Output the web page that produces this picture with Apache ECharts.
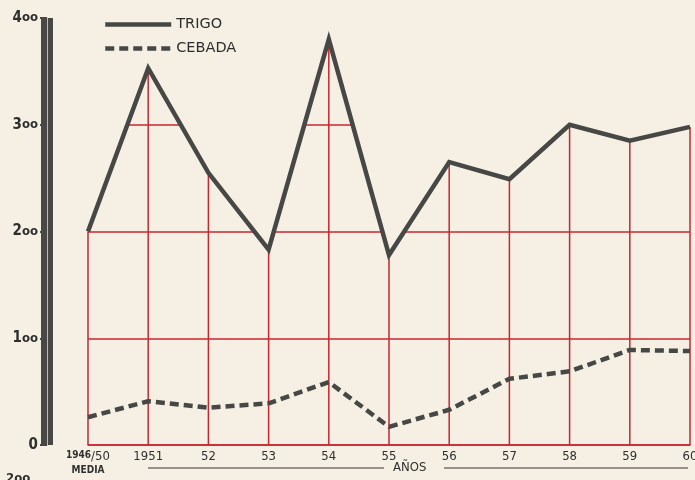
<!DOCTYPE html>
<html>
<head>
<meta charset="utf-8">
<script src="https://cdn.jsdelivr.net/npm/echarts@6/dist/echarts.min.js"></script>
<style>
  html, body { margin: 0; padding: 0; background: #f5f0e3; }
  #main { width: 695px; height: 480px; }
</style>
</head>
<body>
<div id="main"></div>
<script>
var years = ['1946/50', '1951', '52', '53', '54', '55', '56', '57', '58', '59', '60'];
var trigo = [200, 353, 255, 183, 380, 178, 265, 249, 300, 285, 298];
var cebada = [26, 41, 35, 39, 59, 17, 33, 62, 69, 89, 88];

var bg = '#f5f0e3';
var red = '#c9262f';
var ink = '#474745';

var chart = echarts.init(document.getElementById('main'));

var option = {
  backgroundColor: bg,
  animation: false,
  grid: { left: 88, right: 5, top: 18, bottom: 35, outerBoundsMode: 'none' },
  legend: {
    data: ['TRIGO', 'CEBADA'],
    orient: 'vertical',
    left: 98,
    top: 12,
    itemWidth: 66,
    itemHeight: 10,
    itemGap: 9,
    itemStyle: { opacity: 0 },
    lineStyle: { width: 4.5 },
    textStyle: { fontFamily: 'DejaVu Sans', fontSize: 14.5, color: '#2e2e2e' }
  },
  xAxis: {
    type: 'category',
    data: years,
    boundaryGap: false,
    axisLine: { lineStyle: { color: red, width: 1.5 } },
    axisTick: { show: false },
    splitLine: { show: false },
    axisLabel: {
      interval: 0,
      margin: 5,
      color: '#303030',
      fontFamily: 'DejaVu Sans Condensed',
      fontSize: 13,
      formatter: function (v) {
        if (v === years[0]) return '{s|1946}{b|/50}\n{m|MEDIA}';
        return v;
      },
      rich: {
        s: { fontSize: 10, fontWeight: 'bold', verticalAlign: 'top', color: '#303030', fontFamily: 'DejaVu Sans Condensed' },
        b: { fontSize: 13, color: '#303030', fontFamily: 'DejaVu Sans Condensed' },
        m: { fontSize: 10, fontWeight: 'bold', color: '#303030', fontFamily: 'DejaVu Sans Condensed', lineHeight: 14 }
      }
    }
  },
  yAxis: [{
    type: 'value',
    min: 0,
    max: 400,
    interval: 100,
    offset: 41,
    axisLine: { show: true, lineStyle: { color: ink, width: 12, cap: 'butt' } },
    axisTick: { show: true, length: 7, lineStyle: { color: ink, width: 2 } },
    splitLine: { show: true, lineStyle: { color: [red, red, red, red, 'rgba(0,0,0,0)'], width: 1.5 } },
    axisLabel: {
      margin: 9,
      formatter: function (v) {
        if (v === 0) return '{n|0}';
        return '{n|' + String(v).charAt(0) + '}{o|oo}';
      },
      rich: {
        n: { fontSize: 15, color: '#2e2e2e', fontFamily: 'DejaVu Sans Condensed', fontWeight: 'bold' },
        o: { fontSize: 13, color: '#2e2e2e', fontFamily: 'DejaVu Sans Condensed', fontWeight: 'bold' }
      }
    }
  }, {
    type: 'value',
    min: 0,
    max: 400,
    interval: 100,
    offset: 41,
    position: 'left',
    axisLine: { show: true, lineStyle: { color: '#bdb9ad', width: 1 } },
    axisTick: { show: false },
    axisLabel: { show: false },
    splitLine: { show: false }
  }],
  series: [{
    name: 'cover',
    type: 'line',
    data: trigo,
    symbol: 'none',
    lineStyle: { width: 0, opacity: 0 },
    areaStyle: { origin: 'end', color: bg, opacity: 1 },
    silent: true
  }, {
    name: 'stems',
    type: 'bar',
    data: trigo,
    barWidth: 1.5,
    clip: false,
    itemStyle: { color: red },
    silent: true
  }, {
    name: 'TRIGO',
    type: 'line',
    data: trigo,
    symbol: 'none',
    lineStyle: { color: ink, width: 4.5, join: 'miter' },
    itemStyle: { color: ink }
  }, {
    name: 'CEBADA',
    type: 'line',
    data: cebada,
    symbol: 'none',
    lineStyle: { color: ink, width: 4.5, type: [9, 5] },
    itemStyle: { color: ink }
  }],
  graphic: [
    { type: 'line', shape: { x1: 148, y1: 468, x2: 384, y2: 468 }, style: { stroke: '#333', lineWidth: 1 } },
    { type: 'line', shape: { x1: 444, y1: 468, x2: 688, y2: 468 }, style: { stroke: '#333', lineWidth: 1 } },
    { type: 'text', left: 393, top: 461, style: { text: 'AÑOS', fontSize: 13, fontFamily: 'DejaVu Sans Condensed', fill: '#2e2e2e' } },
    { type: 'text', left: 6, top: 472, style: { text: '2oo', fontSize: 13, fontFamily: 'DejaVu Sans Condensed', fontWeight: 'bold', fill: '#2e2e2e' } }
  ]
};

chart.setOption(option);
</script>
</body>
</html>
